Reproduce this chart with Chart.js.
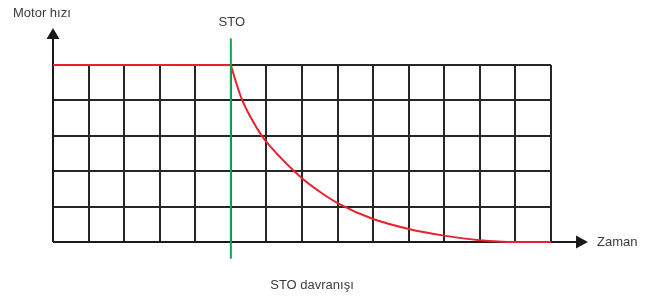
<!DOCTYPE html>
<html>
<head>
<meta charset="utf-8">
<script src="https://cdn.jsdelivr.net/npm/chart.js@4.4.1/dist/chart.umd.min.js"></script>
<style>
  html, body { margin: 0; padding: 0; background: #fff; }
  #wrap { width: 655px; height: 296px; position: relative; }
</style>
</head>
<body>
<div id="wrap"><canvas id="stoChart"></canvas></div>
<script>
// flat speed before STO, then coasting down after it (grid units: 14 columns, 5 rows)
const flatX = [0, 5];
const flatY = [5, 5];
const curveX = [5, 5.125, 5.305, 5.567, 5.876, 6.1, 7, 7.5, 8, 9, 10, 11, 12, 13, 14];
const curveY = [5, 4.58, 4.04, 3.5, 2.99, 2.71, 1.8, 1.42, 1.1, 0.65, 0.37, 0.18, 0.05, 0, 0];
const stoX = [5, 5];
const stoY = [5.75, -0.47];

const yTitle = 'Motor hızı';
const xTitle = 'Zaman';
const stoLabel = 'STO';
const caption = 'STO davranışı';

const FONT = '"Liberation Sans", Arial, sans-serif';
const GRID = '#262626';

function pts(xs, ys) {
    return xs.map((x, i) => ({ x: x, y: ys[i] }));
}

const decorations = {
    id: 'decorations',
    beforeDatasetsDraw(chart) {
        const c = chart.ctx;
        const a = chart.chartArea;
        c.save();
        c.strokeStyle = '#1a1a1a';
        c.fillStyle = '#1a1a1a';
        c.lineWidth = 2;
        // y axis with arrow
        c.beginPath();
        c.moveTo(a.left, a.bottom);
        c.lineTo(a.left, a.top - 28);
        c.stroke();
        c.beginPath();
        c.moveTo(a.left, a.top - 37);
        c.lineTo(a.left - 6.5, a.top - 26);
        c.lineTo(a.left + 6.5, a.top - 26);
        c.closePath();
        c.fill();
        // x axis with arrow
        c.beginPath();
        c.moveTo(a.left, a.bottom);
        c.lineTo(a.right + 27, a.bottom);
        c.stroke();
        c.beginPath();
        c.moveTo(a.right + 37, a.bottom);
        c.lineTo(a.right + 25, a.bottom - 6.5);
        c.lineTo(a.right + 25, a.bottom + 6.5);
        c.closePath();
        c.fill();
        c.restore();
    },
    afterDraw(chart) {
        const c = chart.ctx;
        const a = chart.chartArea;
        const xs = chart.scales.x;
        c.save();
        c.fillStyle = '#3c3c3c';
        c.font = '13px ' + FONT;
        c.textBaseline = 'middle';
        c.textAlign = 'left';
        c.fillText(yTitle, 13, 13);
        c.fillText(xTitle, a.right + 46, a.bottom);
        c.textAlign = 'center';
        c.fillText(stoLabel, xs.getPixelForValue(stoX[0]) + 1, 22);
        c.fillText(caption, 312, 285);
        c.restore();
    }
};

new Chart(document.getElementById('stoChart'), {
    type: 'line',
    data: {
        datasets: [
            {
                data: pts(stoX, stoY),
                borderColor: '#16a34a',
                borderWidth: 2,
                pointRadius: 0,
                clip: false,
                order: 0
            },
            {
                data: pts(flatX, flatY),
                borderColor: '#e8212b',
                borderWidth: 2,
                pointRadius: 0,
                clip: false,
                order: 1
            },
            {
                data: pts(curveX, curveY),
                borderColor: '#e8212b',
                borderWidth: 2,
                pointRadius: 0,
                cubicInterpolationMode: 'monotone',
                clip: false,
                order: 1
            }
        ]
    },
    options: {
        responsive: true,
        maintainAspectRatio: false,
        animation: false,
        layout: { padding: { left: 53, right: 104, top: 65, bottom: 54 } },
        plugins: {
            legend: { display: false },
            tooltip: { enabled: false }
        },
        scales: {
            x: {
                type: 'linear',
                min: 0,
                max: 14,
                ticks: { display: false, stepSize: 1 },
                grid: { color: GRID, lineWidth: 2, drawTicks: false },
                border: { display: false },
                afterFit: s => { s.height = 0; }
            },
            y: {
                min: 0,
                max: 5,
                ticks: { display: false, stepSize: 1 },
                grid: { color: GRID, lineWidth: 2, drawTicks: false },
                border: { display: false },
                afterFit: s => { s.width = 0; }
            }
        }
    },
    plugins: [decorations]
});
</script>
</body>
</html>
